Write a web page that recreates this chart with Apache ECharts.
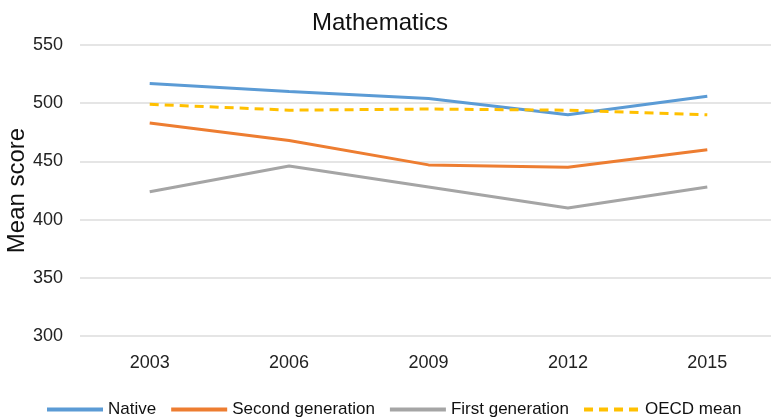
<!DOCTYPE html>
<html>
<head>
<meta charset="utf-8">
<script src="https://cdn.jsdelivr.net/npm/echarts@6/dist/echarts.min.js"></script>
<style>
  html, body { margin: 0; padding: 0; background: #fff; }
  #chart { width: 771px; height: 420px; }
</style>
</head>
<body>
<div id="chart"></div>
<script>
// PISA mathematics mean scores by migration background
const years = ['2003', '2006', '2009', '2012', '2015'];
const native = [517, 510, 504, 490, 506];
const secondGeneration = [483, 468, 447, 445, 460];
const firstGeneration = [424, 446, 428, 410, 428];
const oecdMean = [499, 494, 495, 494, 490];
const yTicks = { min: 300, max: 550, step: 50 };

const font = 'Liberation Sans, Arial, sans-serif';
const chart = echarts.init(document.getElementById('chart'));

function lineSeries(name, values, color, dashed) {
  return {
    name: name,
    type: 'line',
    data: values,
    symbol: 'none',
    showSymbol: false,
    lineStyle: { color: color, width: 3, type: dashed ? [9, 6] : 'solid' },
    itemStyle: { color: color },
    z: dashed ? 3 : 2
  };
}

chart.setOption({
  animation: false,
  backgroundColor: '#ffffff',
  title: {
    text: 'Mathematics',
    left: 375,
    textAlign: 'center',
    top: 6,
    textStyle: { fontFamily: font, fontSize: 24, fontWeight: 'normal', color: '#111' }
  },
  // plot area runs past the right edge of the canvas
  grid: { left: 80, width: 697, top: 45, bottom: 84, containLabel: false, outerBoundsMode: 'none' },
  xAxis: {
    type: 'category',
    data: years,
    boundaryGap: true,
    axisLine: { show: false },
    axisTick: { show: false },
    axisLabel: { fontFamily: font, fontSize: 18, color: '#222', margin: 18 }
  },
  yAxis: {
    type: 'value',
    min: yTicks.min,
    max: yTicks.max,
    interval: yTicks.step,
    name: 'Mean score',
    nameLocation: 'middle',
    nameGap: 51,
    nameMoveOverlap: false,
    nameTextStyle: { fontFamily: font, fontSize: 24, color: '#111' },
    axisLine: { show: false },
    axisTick: { show: false },
    axisLabel: { fontFamily: font, fontSize: 18, color: '#222', margin: 17 },
    splitLine: { lineStyle: { color: '#dcdcdc', width: 1.5 } }
  },
  legend: {
    top: 396,
    left: 40,
    itemWidth: 56,
    itemHeight: 12,
    itemGap: 13,
    itemStyle: { opacity: 0 },
    lineStyle: { width: 4 },
    textStyle: { fontFamily: font, fontSize: 17, color: '#111' },
    data: ['Native', 'Second generation', 'First generation', 'OECD mean']
  },
  series: [
    lineSeries('Native', native, '#5b9bd5', false),
    lineSeries('Second generation', secondGeneration, '#ed7d31', false),
    lineSeries('First generation', firstGeneration, '#a5a5a5', false),
    lineSeries('OECD mean', oecdMean, '#ffc000', true)
  ]
});
</script>
</body>
</html>
